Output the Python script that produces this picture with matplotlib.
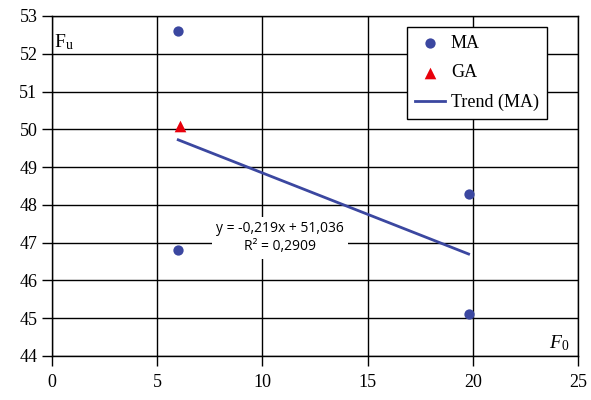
import matplotlib.pyplot as plt
import numpy as np

ma_x = [6.0, 6.0, 19.8, 19.8]
ma_y = [52.6, 46.8, 48.3, 45.1]
ga_x = [6.1]
ga_y = [50.1]
slope, intercept = -0.219, 51.036
trend_x = [6.0, 19.8]
xticks = [0, 5, 10, 15, 20, 25]
yticks = [44, 45, 46, 47, 48, 49, 50, 51, 52, 53]

plt.rcParams['font.family'] = ['Liberation Serif', 'DejaVu Serif']
plt.rcParams['mathtext.fontset'] = 'custom'
plt.rcParams['mathtext.rm'] = 'Liberation Serif'
plt.rcParams['mathtext.it'] = 'Liberation Serif:italic'
fig = plt.figure(figsize=(5.91, 4.0), dpi=100)
ax = fig.add_axes([52/591, 1-356/400, (578-52)/591, (356-16)/400])

blue = '#3B47A0'
ax.scatter(ma_x, ma_y, s=55, color=blue, zorder=5, label='MA', linewidths=0)
ax.scatter(ga_x, ga_y, s=70, marker='^', color='#E8000B', zorder=5, label='GA', linewidths=0)
tx = np.array(trend_x)
ax.plot(tx, slope*tx + intercept, color=blue, lw=2, zorder=3, label='Trend (MA)')

ax.set_xlim(0, 25)
ax.set_ylim(44, 53)
ax.set_xticks(xticks)
ax.set_yticks(yticks)
ax.grid(True, color='black', lw=1)
ax.set_axisbelow(True)
for s in ax.spines.values():
    s.set_color('black'); s.set_linewidth(1)
ax.tick_params(direction='out', length=7, width=1, labelsize=13, colors='black')
ax.tick_params(axis='x', pad=6)

ax.text(10.85, 47.13, 'y = -0,219x + 51,036\nR\u00b2 = 0,2909', family=['Open Sans', 'DejaVu Sans'],
        fontsize=10, ha='center', va='center', linespacing=1.3,
        bbox=dict(facecolor='white', edgecolor='none', pad=3), zorder=4)

ax.text(0.1, 52.3, 'F$_\\mathrm{u}$', fontsize=14, ha='left', va='center')
ax.text(24.6, 44.35, '$\\mathit{F}_{\\mathit{0}}$', fontsize=14, ha='right', va='center')

leg = ax.legend(loc='upper right', bbox_to_anchor=((547-52)/526, (356-27)/340),
                fontsize=13, frameon=True, fancybox=False, edgecolor='black',
                framealpha=1, handlelength=1.7, handletextpad=0.3, borderpad=0.45,
                labelspacing=0.68, borderaxespad=0)
leg.get_frame().set_linewidth(1)

fig.savefig('out.png', dpi=100)
